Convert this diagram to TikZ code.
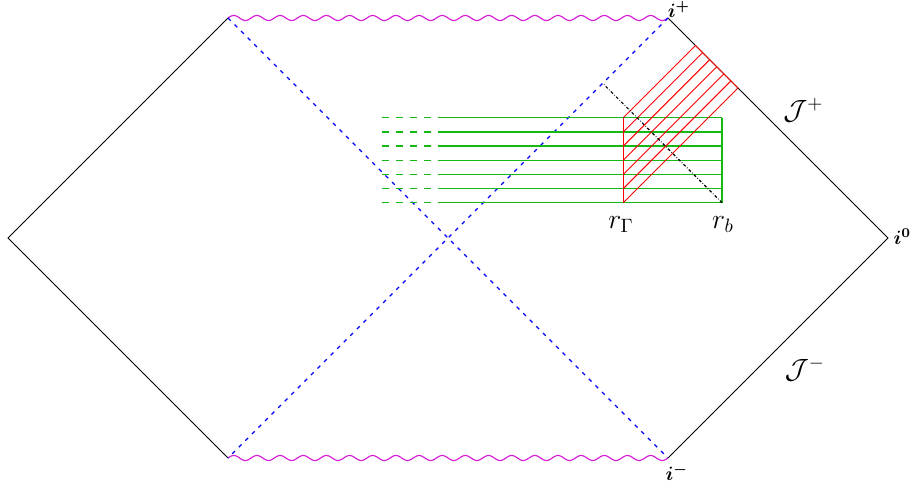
\documentclass[tikz,border=0pt]{standalone}
\usepackage{amsmath,amssymb}
\usetikzlibrary{calc}
\definecolor{slgreen}{RGB}{20,185,20}
\definecolor{singmag}{RGB}{215,30,215}
\tikzset{
  bdry/.style={black, thin},
  sing/.style={singmag, semithick},
  hor/.style={blue, semithick, dash pattern=on 2pt off 2.8pt},
  slc/.style={slgreen, line width=0.7pt},
  slcd/.style={slc, dash pattern=on 3.6pt off 3.6pt},
  hatch/.style={red, line width=0.5pt},
  rline/.style={black, semithick, dash pattern=on 1.5pt off 1pt on 0.3pt off 1pt},
  plab/.style={font=\Large},
  ilab/.style={font=\normalsize},
}

\begin{document}
\begin{tikzpicture}[x=2cm, y=2cm]
  \useasboundingbox (-0.0727,-2.2364) rectangle (8.2364,2.1636);
  % corners of the diagram
  \coordinate (lc) at (0,0);
  \coordinate (tl) at (2,2);
  \coordinate (tr) at (6,2);
  \coordinate (rc) at (8,0);
  \coordinate (br) at (6,-2);
  \coordinate (bl) at (2,-2);
  % boundaries and singularities
  \draw[bdry] (tl) -- (lc) -- (bl);
  \draw[bdry] (tr) -- (rc) -- (br);
  \draw[sing] plot[domain=2:6, samples=400, smooth]
      (\x, {2+0.0227*sin(19*90*(\x-2))});
  \draw[sing] plot[domain=2:6, samples=400, smooth]
      (\x, {-2+0.0227*sin(19*90*(\x-2))});
  % horizons
  \draw[hor] (tl) -- (br);
  \draw[hor] (tr) -- (bl);
  % slices
  \foreach \k in {0,...,6}{
    \pgfmathsetmacro{\yk}{0.3209+0.1288*\k}
    \pgfmathsetmacro{\tk}{(8-5.594-\yk)/2}
    \coordinate (s\k) at (3.4,\yk);
    \coordinate (m\k) at (3.914,\yk);
    \coordinate (g\k) at (5.594,\yk);
    \coordinate (b\k) at (6.491,\yk);
    \coordinate (e\k) at (5.594+\tk,\yk+\tk);
    \draw[slcd] (s\k) -- (m\k);
    \draw[slc] (m\k) -- (b\k);
  }
  \draw[slc] (b0) -- (b6);
  % hatched region
  \foreach \k in {0,...,6}{
    \draw[hatch] (g\k) -- (e\k);
  }
  \draw[hatch] (g0) -- (g6);
  \draw[hatch] (e0) -- (e6);
  % radius r_b line
  \coordinate (hz) at (5.406,1.406);
  \draw[rline] (b0) -- (hz);
  % labels
  \node[ilab] (ip) at (6.1,2.08) {$\boldsymbol{i^+}$};
  \node[ilab] (io) at (8.13,0.01) {$\boldsymbol{i^0}$};
  \node[ilab] (im) at (6.08,-2.127) {$\boldsymbol{i^-}$};
  \node[plab] (jp) at (7.23,1.16) {$\mathcal{J}^+$};
  \node[plab] (jm) at (7.245,-1.19) {$\mathcal{J}^-$};
  \node[plab] (rg) at (5.573,0.12) {$r_\Gamma$};
  \node[plab] (rbl) at (6.5,0.12) {$r_b$};
\end{tikzpicture}
\end{document}
